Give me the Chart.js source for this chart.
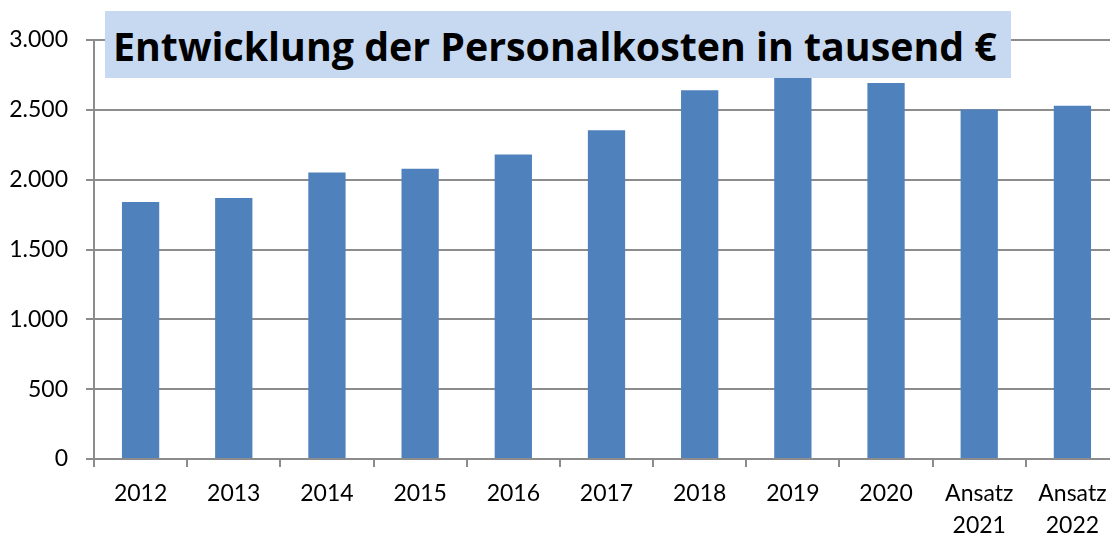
<!DOCTYPE html>
<html>
<head>
<meta charset="utf-8">
<script src="https://cdn.jsdelivr.net/npm/chart.js@4"></script>
<style>
  html, body { margin: 0; padding: 0; background: #fff; overflow: hidden; width: 1110px; height: 534px; }
  #wrap { position: absolute; left: 0; top: 0; width: 1119px; height: 534px; }
  #title {
    position: absolute; left: 105px; top: 11px; width: 906px; height: 67px;
    background: #c6d9f1; z-index: 2;
  }
  #title span {
    position: absolute; left: 8px; top: 11px; white-space: nowrap;
    font-family: "Open Sans", sans-serif; font-weight: bold; font-size: 39.3px; line-height: 48px; color: #000;
  }
</style>
</head>
<body>
<div id="wrap"><canvas id="c"></canvas></div>
<div id="title"><span>Entwicklung der Personalkosten in tausend €</span></div>
<script>
const categories = ['2012', '2013', '2014', '2015', '2016', '2017', '2018', '2019', '2020', ['Ansatz', '2021'], ['Ansatz', '2022']];
const personalkosten = [1840, 1869, 2051, 2079, 2180, 2353, 2640, 2740, 2692, 2502, 2530];
const yTickValues = [0, 500, 1000, 1500, 2000, 2500, 3000];
const yTickLabels = ['0', '500', '1.000', '1.500', '2.000', '2.500', '3.000'];

const gridColor = '#8c8c8c';
const tickFont = { family: 'Lato, sans-serif', size: 23, lineHeight: 1.4 };

new Chart(document.getElementById('c'), {
  type: 'bar',
  data: {
    labels: categories,
    datasets: [{
      data: personalkosten,
      backgroundColor: '#4f81bd',
      borderWidth: 0,
      barPercentage: 0.4,
      categoryPercentage: 1.0
    }]
  },
  options: {
    responsive: true,
    maintainAspectRatio: false,
    animation: false,
    layout: { padding: { top: 40, left: 0, right: 0, bottom: 0 } },
    plugins: { legend: { display: false }, tooltip: { enabled: false }, title: { display: false } },
    scales: {
      x: {
        offset: true,
        grid: { offset: true, drawOnChartArea: false, drawTicks: true, tickLength: 8, color: gridColor, lineWidth: 2 },
        border: { color: gridColor, width: 2 },
        ticks: { color: '#000', font: tickFont, padding: 10, maxRotation: 0, minRotation: 0, autoSkip: false },
        afterFit: s => { s.height = 75; }
      },
      y: {
        min: 0, max: 3000,
        grid: { color: gridColor, lineWidth: 2, tickLength: 8, drawTicks: true },
        border: { color: gridColor, width: 2 },
        ticks: {
          stepSize: 500, color: '#000', font: tickFont, padding: 18,
          callback: v => yTickLabels[yTickValues.indexOf(v)]
        },
        afterFit: s => { s.width = 94; }
      }
    }
  }
});
</script>
</body>
</html>
